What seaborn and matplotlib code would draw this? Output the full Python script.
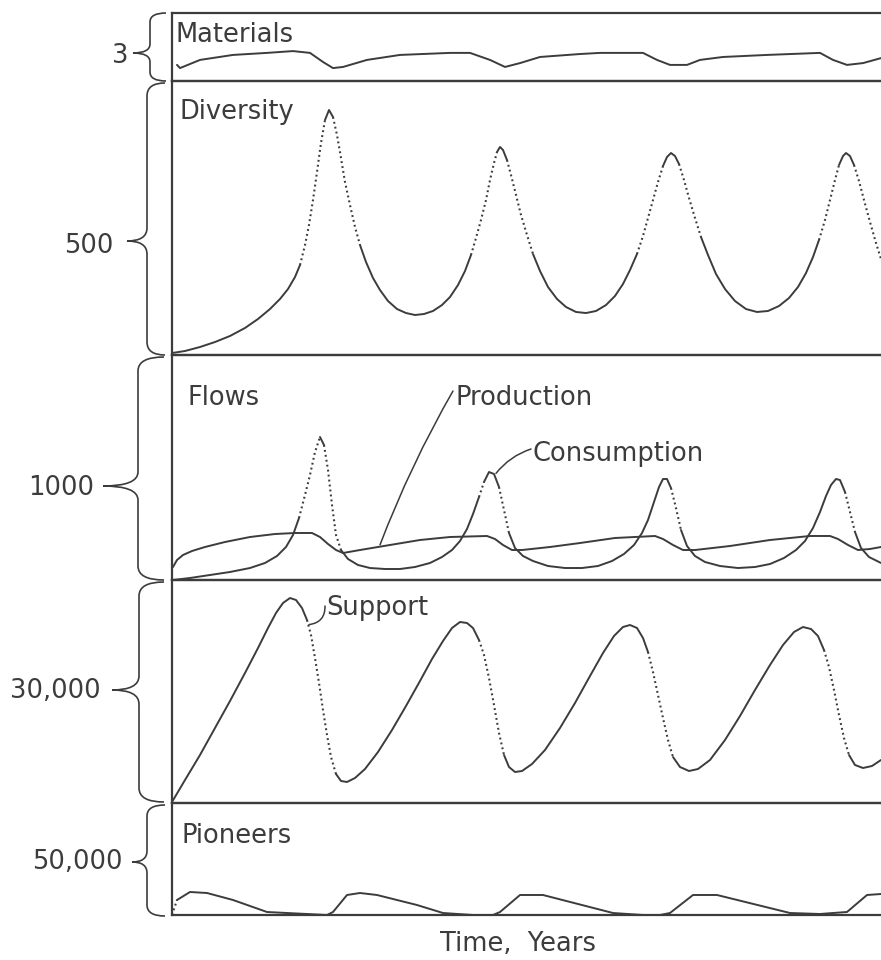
import numpy as np
import pandas as pd
import matplotlib
matplotlib.use("Agg")
import matplotlib.pyplot as plt
import seaborn as sns
from matplotlib.path import Path
from matplotlib.patches import PathPatch

# ---------------- data (time in arbitrary years units) ----------------
materials_t = [0.5, 0.8, 2.8, 6.1, 9.5, 12.1, 13.8, 15.1, 16.1, 17.1, 19.5, 22.8, 27.8, 29.8,
               31.8, 33.3, 34.8, 36.8, 40.8, 42.8, 47.1, 48.5, 49.8, 51.5, 52.8, 55.1, 59.5,
               64.8, 66.1, 67.5, 69.1, 70.9]
materials_v = [0.71, 0.57, 0.93, 1.15, 1.24, 1.32, 1.24, 0.84, 0.57, 0.62, 0.93, 1.15, 1.24, 1.24,
               0.93, 0.62, 0.79, 1.06, 1.19, 1.24, 1.24, 0.93, 0.71, 0.71, 0.93, 1.06, 1.15,
               1.24, 0.93, 0.71, 0.79, 1.01]

diversity_t = [0.0, 1.3, 2.8, 4.3, 5.8, 7.3, 8.6, 9.8, 10.8, 11.6, 12.3, 12.8, 13.3, 13.7, 14.1,
               14.5, 14.9, 15.3, 15.7, 16.1, 16.5, 16.9, 17.3, 17.8, 18.3, 18.8, 19.4, 20.1,
               20.8, 21.6, 22.5, 23.4, 24.3, 25.2, 26.1, 27.0, 27.8, 28.6, 29.3, 29.9, 30.4,
               30.9, 31.4, 31.8, 32.2, 32.5, 32.8, 33.1, 33.5, 33.9, 34.4, 34.9, 35.5, 36.1,
               36.8, 37.6, 38.5, 39.4, 40.4, 41.4, 42.4, 43.4, 44.3, 45.1, 45.8, 46.5, 47.1,
               47.6, 48.1, 48.6, 49.1, 49.5, 49.9, 50.3, 50.7, 51.2, 51.7, 52.3, 52.9, 53.6,
               54.4, 55.3, 56.3, 57.4, 58.5, 59.6, 60.7, 61.7, 62.6, 63.4, 64.1, 64.7, 65.3,
               65.8, 66.3, 66.7, 67.1, 67.4, 67.8, 68.2, 68.7, 69.2, 69.8, 70.4, 70.9]
diversity_v = [3.6, 7.3, 14.6, 23.7, 34.7, 49.3, 65.7, 83.9, 102.2, 120.4, 142.3, 164.2, 200.7,
               237.2, 282.8, 333.9, 386.9, 428.8, 447.1, 434.3, 401.5, 359.5, 315.7, 273.7,
               233.6, 200.7, 169.7, 140.5, 118.6, 98.5, 83.9, 76.6, 73.0, 74.8, 80.3, 91.2,
               105.8, 127.7, 153.3, 182.5, 213.5, 246.3, 282.8, 319.3, 350.4, 370.4, 379.6,
               374.1, 355.8, 328.5, 292.0, 255.5, 219.0, 184.3, 153.3, 124.1, 102.2, 87.6, 78.5,
               76.6, 80.3, 91.2, 107.7, 129.6, 155.1, 184.3, 217.2, 250.0, 282.8, 315.7, 344.9,
               361.3, 368.6, 363.1, 348.5, 319.3, 286.5, 250.0, 215.3, 182.5, 147.8, 120.4,
               98.5, 83.9, 78.5, 80.3, 89.4, 104.0, 124.1, 149.6, 178.8, 209.9, 246.3, 282.8,
               319.3, 346.7, 363.1, 368.6, 363.1, 346.7, 317.5, 282.8, 242.7, 204.4, 175.2]

production_t = [0.1, 0.5, 1.1, 2.0, 3.3, 5.3, 7.8, 10.3, 12.3, 14.0, 14.8, 15.6, 16.4, 17.1,
                18.8, 21.8, 24.8, 27.8, 31.5, 32.3, 33.1, 34.0, 35.0, 37.8, 40.8, 44.3, 48.3,
                49.1, 50.1, 51.1, 52.3, 55.8, 59.8, 63.8, 65.8, 66.6, 67.6, 68.6, 69.8, 70.9]
production_v = [57.8, 88.9, 111.1, 128.9, 146.7, 168.9, 191.1, 204.4, 208.9, 208.9, 191.1,
                160.0, 133.3, 120.0, 133.3, 155.6, 177.8, 191.1, 195.6, 182.2, 155.6, 133.3,
                133.3, 146.7, 164.4, 186.7, 195.6, 182.2, 155.6, 133.3, 133.3, 151.1, 177.8,
                195.6, 195.6, 182.2, 155.6, 133.3, 137.8, 146.7]

consumption_t = [0.1, 1.8, 3.8, 5.8, 7.8, 9.3, 10.5, 11.4, 12.1, 12.7, 13.3, 13.8, 14.3, 14.8,
                 15.2, 15.6, 16.0, 16.4, 16.9, 17.6, 18.6, 19.8, 21.3, 22.8, 24.3, 25.8, 27.0,
                 28.0, 28.8, 29.5, 30.1, 30.7, 31.2, 31.7, 32.2, 32.7, 33.2, 33.7, 34.3, 35.1,
                 36.1, 37.6, 39.3, 41.0, 42.6, 44.0, 45.2, 46.2, 47.0, 47.6, 48.2, 48.7, 49.1,
                 49.5, 49.9, 50.4, 50.9, 51.5, 52.3, 53.3, 54.8, 56.6, 58.3, 59.8, 61.2, 62.4,
                 63.3, 64.1, 64.8, 65.4, 65.9, 66.4, 66.8, 67.3, 67.8, 68.3, 68.9, 69.7, 70.9]
consumption_v = [0.0, 8.9, 22.2, 35.6, 53.3, 75.6, 106.7, 146.7, 200.0, 275.6, 377.8, 466.7,
                 568.9, 635.6, 600.0, 488.9, 333.3, 200.0, 133.3, 93.3, 66.7, 53.3, 48.9, 48.9,
                 57.8, 75.6, 102.2, 133.3, 173.3, 226.7, 293.3, 368.9, 435.6, 480.0, 471.1,
                 413.3, 311.1, 208.9, 142.2, 106.7, 84.4, 62.2, 53.3, 53.3, 62.2, 84.4, 115.6,
                 155.6, 208.9, 266.7, 346.7, 413.3, 448.9, 448.9, 408.9, 320.0, 222.2, 151.1,
                 106.7, 80.0, 62.2, 53.3, 57.8, 71.1, 97.8, 133.3, 173.3, 231.1, 302.2, 373.3,
                 422.2, 448.9, 444.4, 391.1, 302.2, 213.3, 142.2, 102.2, 75.6]

support_t = [0.0, 1.3, 2.8, 4.3, 5.8, 7.3, 8.6, 9.6, 10.4, 11.1, 11.8, 12.4, 13.0, 13.5, 13.9,
             14.3, 14.7, 15.1, 15.5, 15.9, 16.4, 16.9, 17.5, 18.3, 19.3, 20.6, 22.0, 23.4,
             24.8, 26.0, 27.1, 28.0, 28.8, 29.5, 30.1, 30.7, 31.2, 31.7, 32.2, 32.7, 33.2,
             33.7, 34.3, 35.0, 36.0, 37.3, 38.8, 40.3, 41.8, 43.1, 44.2, 45.1, 45.8, 46.5,
             47.1, 47.6, 48.1, 48.6, 49.1, 49.6, 50.1, 50.8, 51.7, 52.6, 53.8, 55.3, 56.8,
             58.3, 59.8, 61.1, 62.2, 63.1, 63.9, 64.6, 65.2, 65.7, 66.2, 66.7, 67.2, 67.7,
             68.3, 69.1, 70.0, 70.9]
support_v = [135, 3094, 6457, 10090, 13722, 17489, 20852, 23543, 25561, 26906, 27578, 27310,
             26233, 24619, 22601, 19507, 16144, 12511, 9148, 6188, 3901, 2960, 2825, 3363,
             4574, 6861, 9821, 13049, 16413, 19372, 21794, 23543, 24350, 24215, 23543, 21928,
             19910, 16816, 13184, 9417, 6457, 4843, 4170, 4305, 5247, 7130, 10090, 13453,
             17085, 20180, 22467, 23677, 23946, 23543, 22197, 20314, 17623, 14529, 11435,
             8475, 6188, 4843, 4305, 4574, 5785, 8475, 11704, 15202, 18565, 21256, 23005,
             23677, 23408, 22467, 20583, 18296, 15202, 11839, 8744, 6457, 5112, 4709, 4978,
             5785]

pioneers_t = [0.0, 0.5, 1.8, 3.5, 6.1, 9.5, 11.5, 15.5, 16.1, 17.5, 18.8, 20.5, 24.5, 27.1,
              30.1, 32.1, 32.8, 34.8, 37.1, 44.1, 47.1, 48.8, 49.8, 52.1, 54.5, 61.8, 64.8,
              66.1, 67.5, 69.5, 70.9]
pioneers_v = [0, 6700, 10270, 9820, 6700, 1340, 890, 0, 1340, 8930, 9820, 8930, 4460, 890,
              0, 0, 1340, 8930, 8930, 890, 0, 0, 890, 8930, 8930, 890, 450, 890, 1340, 8930,
              9375]

panel_names = ["Materials", "Diversity", "Flows", "Support", "Pioneers"]
scale_labels = ["3", "500", "1000", "30,000", "50,000"]
scale_max = [3, 500, 1000, 30000, 50000]
x_label = "Time,  Years"

# ---------------- layout (figure pixels, measured from top) ----------------
W, H = 881, 960
LEFT = 172
T_MAX = 70.9
edges = [13, 81, 355, 580, 803, 915]
INK = "#3c3c3c"

sns.set_style("white")
plt.rcParams["font.family"] = ["DejaVu Sans"]
FS = 18.5

fig = plt.figure(figsize=(W / 100, H / 100), dpi=100)
fig.patch.set_facecolor("white")

axes = []
for i in range(5):
    top, bot = edges[i], edges[i + 1]
    ax = fig.add_axes([LEFT / W, 1 - bot / H, 1 - LEFT / W, (bot - top) / H])
    ax.set_xlim(0, T_MAX)
    ax.set_ylim(0, scale_max[i])
    ax.set_facecolor("none")
    ax.set_xticks([]); ax.set_yticks([])
    for s in ["left", "top", "bottom"]:
        ax.spines[s].set_visible(True)
        ax.spines[s].set_color(INK)
        ax.spines[s].set_linewidth(1.6)
    ax.spines["right"].set_visible(False)
    axes.append(ax)

PX_PER_T = (W - LEFT) / T_MAX


def draw_curve(ax, t, v, ymax, h_px):
    t = np.asarray(t, float)
    v = np.asarray(v, float)
    dx = np.diff(t) * PX_PER_T
    dy = np.diff(v) / ymax * h_px
    steep = np.abs(dy) > 3.0 * np.abs(dx)
    n = len(steep)
    i = 0
    while i < n:
        j = i
        while j + 1 < n and steep[j + 1] == steep[i]:
            j += 1
        df = pd.DataFrame({"t": t[i:j + 2], "v": v[i:j + 2]})
        if steep[i]:
            sns.lineplot(data=df, x="t", y="v", ax=ax, color=INK, lw=1.5,
                         linestyle=(0, (0.9, 1.5)), sort=False, estimator=None)
        else:
            sns.lineplot(data=df, x="t", y="v", ax=ax, color=INK, lw=1.4,
                         sort=False, estimator=None)
        i = j + 1
    ax.set_xlabel(""); ax.set_ylabel("")


heights = [edges[i + 1] - edges[i] for i in range(5)]
draw_curve(axes[0], materials_t, materials_v, scale_max[0], heights[0])
draw_curve(axes[1], diversity_t, diversity_v, scale_max[1], heights[1])
draw_curve(axes[2], production_t, production_v, scale_max[2], heights[2])
draw_curve(axes[2], consumption_t, consumption_v, scale_max[2], heights[2])
draw_curve(axes[3], support_t, support_v, scale_max[3], heights[3])
draw_curve(axes[4], pioneers_t, pioneers_v, scale_max[4], heights[4])
for ax in axes:
    ax.set_xlim(0, T_MAX)

# ---------------- overlay in pixel coordinates for labels / braces ----------------
ov = fig.add_axes([0, 0, 1, 1])
ov.set_xlim(0, W); ov.set_ylim(H, 0)
ov.axis("off")
ov.set_facecolor("none")

# panel titles
title_pos = [(176, 42), (180, 119), (187, 405), None, (182, 843)]
for name, pos in zip(panel_names, title_pos):
    if pos is not None:
        ov.text(pos[0], pos[1], name, fontsize=FS, color=INK, ha="left", va="baseline")

# curve labels with leader lines
ov.text(455, 405, "Production", fontsize=FS, color=INK, ha="left", va="baseline")
ov.text(532, 461, "Consumption", fontsize=FS, color=INK, ha="left", va="baseline")
ov.text(326, 615, "Support", fontsize=FS, color=INK, ha="left", va="baseline")

ov.annotate("", xy=(20.8, 156), xycoords=axes[2].transData,
            xytext=(453, 391), textcoords=ov.transData,
            arrowprops=dict(arrowstyle="-", color=INK, lw=1.1,
                            connectionstyle="arc3,rad=0.04", shrinkA=0, shrinkB=0))
ov.annotate("", xy=(32.4, 474), xycoords=axes[2].transData,
            xytext=(531, 449), textcoords=ov.transData,
            arrowprops=dict(arrowstyle="-", color=INK, lw=1.1,
                            connectionstyle="arc3,rad=0.15", shrinkA=0, shrinkB=0))
ov.annotate("", xy=(13.7, 24000), xycoords=axes[3].transData,
            xytext=(325, 606), textcoords=ov.transData,
            arrowprops=dict(arrowstyle="-", color=INK, lw=1.1,
                            connectionstyle="arc3,rad=-0.45", shrinkA=0, shrinkB=0))

# braces and scale labels
brace_geom = [  # (x_tip, x_body, x_point, y_top, y_bottom, y_point, radius)
    (166, 150, 133, 13, 81, 53, 9),
    (165, 147, 127, 83, 355, 241, 13),
    (164, 138, 103, 357, 580, 486, 14),
    (164, 139, 112, 582, 802, 690, 14),
    (165, 147, 132, 805, 916, 862, 11),
]
label_pos = [(129, 63), (113, 253), (94, 495), (101, 698), (123, 869)]


def brace(xt, xb, xp, y0, y1, ym, r):
    verts = [(xt, y0), (xb, y0), (xb, y0 + r),
             (xb, ym - r),
             (xb, ym), (xp, ym),
             (xb, ym), (xb, ym + r),
             (xb, y1 - r),
             (xb, y1), (xt, y1)]
    codes = [Path.MOVETO, Path.CURVE3, Path.CURVE3,
             Path.LINETO,
             Path.CURVE3, Path.CURVE3,
             Path.CURVE3, Path.CURVE3,
             Path.LINETO,
             Path.CURVE3, Path.CURVE3]
    return PathPatch(Path(verts, codes), fill=False, edgecolor=INK, lw=1.2)


for g, lab, lp in zip(brace_geom, scale_labels, label_pos):
    ov.add_patch(brace(*g))
    ov.text(lp[0], lp[1], lab, fontsize=FS, color=INK, ha="right", va="baseline")

ov.text(440, 951, x_label, fontsize=FS, color=INK, ha="left", va="baseline")

fig.savefig("out.png", dpi=100, facecolor="white")
